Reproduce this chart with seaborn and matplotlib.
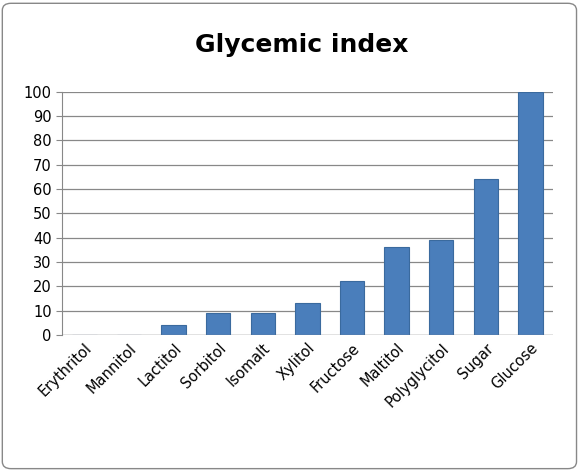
import matplotlib
matplotlib.use("Agg")
import matplotlib.pyplot as plt
import seaborn as sns
import pandas as pd
from matplotlib.patches import FancyBboxPatch

sweeteners = ["Erythritol", "Mannitol", "Lactitol", "Sorbitol", "Isomalt", "Xylitol",
              "Fructose", "Maltitol", "Polyglycitol", "Sugar", "Glucose"]
gi_values = [0, 0, 4, 9, 9, 13, 22, 36, 39, 64, 100]

data = pd.DataFrame({"name": sweeteners, "gi": gi_values})

sns.set_style("white")
plt.rcParams['font.family'] = ['DejaVu Sans']
plt.rcParams['text.color'] = 'black'
plt.rcParams['xtick.color'] = 'black'
plt.rcParams['ytick.color'] = 'black'

fig = plt.figure(figsize=(5.8, 4.71), dpi=100)
ax = fig.add_axes([0.107, 0.289, 0.846, 0.516])

sns.barplot(data=data, x="name", y="gi", color="#4A7EBB", saturation=1,
            width=0.55, edgecolor="#3A6A9E", linewidth=0.8, ax=ax)

ax.set_ylim(0, 100)
ax.set_yticks(range(0, 101, 10))
ax.yaxis.grid(True, color="#888888", linewidth=0.9)
ax.set_axisbelow(True)
for s in ["top", "right", "bottom"]:
    ax.spines[s].set_visible(False)
ax.spines["left"].set_color("#888888")
ax.axhline(0, color="#888888", linewidth=0.9)
ax.set_xlabel("")
ax.set_ylabel("")
ax.tick_params(axis="y", labelsize=10.5, length=4, left=True, color="#888888")
ax.tick_params(axis="x", labelsize=10.5, length=0, pad=4)
plt.setp(ax.get_xticklabels(), rotation=45, ha="right", rotation_mode="anchor")
ax.set_xlim(-0.5, len(sweeteners) - 0.5)

fig.text(0.52, 0.905, "Glycemic index", ha="center", va="center",
         fontsize=18, fontweight="bold", color="black")

border = FancyBboxPatch((0.004, 0.005), 0.99, 0.988, boxstyle="round,pad=0,rounding_size=0.015",
                        transform=fig.transFigure, fill=False, edgecolor="#888888",
                        linewidth=1)
fig.patches.append(border)

fig.savefig("out.png", dpi=100)
